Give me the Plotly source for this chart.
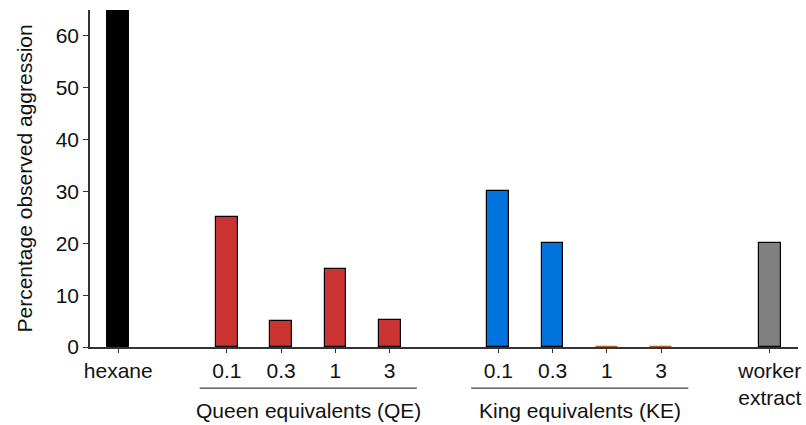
import plotly.graph_objects as go

tick_labels = ["hexane", "0.1", "0.3", "1", "3", "0.1", "0.3", "1", "3", "worker<br>extract"]
tick_pos = [0, 2, 3, 4, 5, 7, 8, 9, 10, 12]

hexane_val = [100]
queen_vals = [25, 5, 15, 5.2]
king_vals = [30, 20, 0, 0]
worker_val = [20]

fig = go.Figure()
fig.add_bar(x=[0], y=hexane_val, marker=dict(color="#000000", line=dict(color="#000000", width=1)), width=0.4)
fig.add_bar(x=[2, 3, 4, 5], y=queen_vals, marker=dict(color="#cc3333", line=dict(color="#000000", width=1.2)), width=0.4)
king_line = ["#000000", "#000000", "#b0602a", "#b0602a"]
fig.add_bar(x=[7, 8, 9, 10], y=king_vals, marker=dict(color="#0073dd", line=dict(color=king_line, width=1.2)), width=0.4)
fig.add_bar(x=[12], y=worker_val, marker=dict(color="#808080", line=dict(color="#000000", width=1.2)), width=0.4)

font_fam = "Liberation Sans, Arial, sans-serif"
fig.update_layout(
    width=806, height=425,
    margin=dict(l=90, r=8, t=10, b=78, autoexpand=False),
    plot_bgcolor="white", paper_bgcolor="white",
    showlegend=False, bargap=0,
    font=dict(family=font_fam, size=21, color="#111111"),
    xaxis=dict(range=[-0.52, 12.52], tickmode="array", tickvals=tick_pos, ticktext=tick_labels,
               showline=True, linecolor="#333333", linewidth=1.5, ticks="outside", ticklen=4,
               tickcolor="#333333", showgrid=False, zeroline=False, tickfont=dict(size=21)),
    yaxis=dict(range=[0, 65], tickvals=[0, 10, 20, 30, 40, 50, 60], showline=True, linecolor="#333333",
               linewidth=1.5, ticks="outside", ticklen=5, tickcolor="#333333", showgrid=False,
               zeroline=False, tickfont=dict(size=21)),
)

fig.add_annotation(text="Percentage observed aggression", xref="paper", yref="paper",
                   x=-0.0932, y=0.5, textangle=-90, showarrow=False, xanchor="center", yanchor="middle",
                   font=dict(size=21, family=font_fam, color="#111111"))

groups = [("Queen equivalents (QE)", 1.5, 5.5), ("King equivalents (KE)", 6.5, 10.5)]
for text, x0, x1 in groups:
    fig.add_shape(type="line", xref="x", yref="paper", x0=x0, x1=x1, y0=-0.122, y1=-0.122,
                  line=dict(color="#111111", width=1))
    fig.add_annotation(text=text, xref="x", yref="paper", x=(x0 + x1) / 2, y=-0.187, showarrow=False,
                       yanchor="middle", font=dict(size=21, family=font_fam, color="#111111"))

fig.write_html("out.html", config={"displayModeBar": False},
               post_script="document.body.style.margin='0';document.body.style.overflow='hidden';")
